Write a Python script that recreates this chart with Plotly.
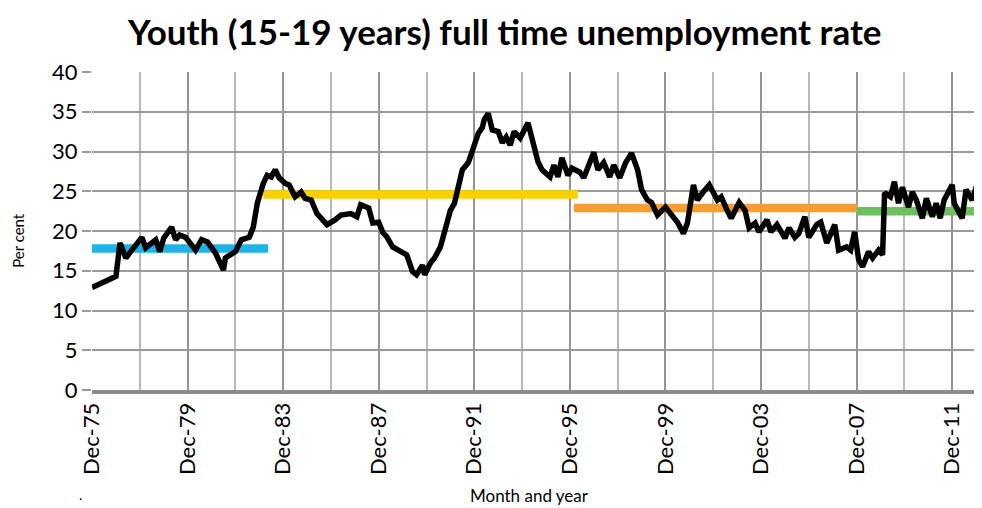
import plotly.graph_objects as go

# Monthly youth (15-19) full-time unemployment rate
months = [
    "1975-12", "1976-10", "1976-12", "1977-02", "1977-05", "1977-08", "1978-01", "1978-03",
    "1978-08", "1978-10", "1978-12", "1979-04", "1979-06", "1979-08", "1979-11", "1980-04",
    "1980-07", "1980-10", "1981-02", "1981-06", "1981-07", "1981-12", "1982-03", "1982-07",
    "1982-09", "1982-11", "1983-02", "1983-04", "1983-06", "1983-08", "1983-10", "1984-01",
    "1984-03", "1984-06", "1984-09", "1984-11", "1985-02", "1985-05", "1985-07", "1985-10",
    "1986-02", "1986-05", "1986-10", "1987-01", "1987-03", "1987-07", "1987-09", "1987-12",
    "1988-02", "1988-04", "1988-07", "1988-11", "1989-02", "1989-05", "1989-07", "1989-10",
    "1989-11", "1990-02", "1990-04", "1990-07", "1990-09", "1990-12", "1991-02", "1991-04",
    "1991-06", "1991-09", "1991-11", "1992-02", "1992-04", "1992-05", "1992-07", "1992-09",
    "1992-12", "1993-02", "1993-04", "1993-06", "1993-08", "1993-11", "1994-03", "1994-05",
    "1994-08", "1994-10", "1995-02", "1995-04", "1995-06", "1995-08", "1995-11", "1996-01",
    "1996-05", "1996-07", "1996-10", "1996-12", "1997-02", "1997-05", "1997-08", "1997-10",
    "1998-01", "1998-04", "1998-07", "1998-10", "1998-12", "1999-03", "1999-05", "1999-08",
    "1999-12", "2000-03", "2000-06", "2000-09", "2000-11", "2001-02", "2001-04", "2001-07",
    "2001-10", "2002-02", "2002-04", "2002-07", "2002-09", "2003-01", "2003-04", "2003-06",
    "2003-09", "2003-11", "2004-03", "2004-05", "2004-08", "2004-12", "2005-02", "2005-05",
    "2005-07", "2005-10", "2005-12", "2006-04", "2006-06", "2006-09", "2007-01", "2007-03",
    "2007-07", "2007-09", "2007-11", "2008-01", "2008-03", "2008-06", "2008-08", "2008-11",
    "2009-01", "2009-02", "2009-05", "2009-07", "2009-09", "2009-11", "2010-02", "2010-04",
    "2010-06", "2010-09", "2010-11", "2011-02", "2011-04", "2011-06", "2011-08", "2011-12",
    "2012-01", "2012-05", "2012-07", "2012-10", "2012-12", "2013-02",
]
rate = [
    12.9, 14.2, 14.3, 18.5, 16.6, 17.6, 19.2, 17.9,
    18.9, 17.4, 19.1, 20.5, 18.9, 19.5, 19.2, 17.6,
    18.9, 18.6, 17.2, 15.1, 16.6, 17.4, 18.9, 19.2,
    20.5, 23.5, 26.0, 27.0, 26.8, 27.7, 26.7, 26.0,
    25.8, 24.3, 24.9, 24.1, 23.9, 22.2, 21.6, 20.8,
    21.4, 22.0, 22.2, 21.8, 23.3, 22.9, 21.0, 21.1,
    19.8, 19.3, 18.0, 17.4, 17.0, 14.9, 14.5, 15.7,
    14.5, 16.0, 16.6, 18.0, 19.7, 22.6, 23.5, 25.5,
    27.7, 28.6, 30.2, 32.3, 33.0, 34.0, 34.8, 32.7,
    32.5, 31.1, 31.8, 30.8, 32.5, 31.7, 33.6, 31.8,
    28.7, 27.7, 26.8, 28.3, 26.8, 29.2, 27.0, 27.9,
    27.4, 26.7, 28.6, 29.9, 27.7, 28.6, 26.8, 28.3,
    26.7, 28.6, 29.8, 27.7, 25.2, 23.9, 23.6, 22.0,
    23.0, 22.0, 21.1, 19.7, 21.0, 25.8, 23.9, 24.9,
    25.8, 23.9, 24.3, 22.6, 21.6, 23.6, 22.6, 20.4,
    21.0, 19.9, 21.4, 19.9, 20.8, 19.1, 20.4, 19.2,
    19.7, 21.8, 19.2, 20.8, 21.1, 18.5, 20.8, 17.6,
    18.0, 17.6, 19.9, 16.4, 15.5, 17.4, 16.6, 17.6,
    17.0, 24.8, 24.3, 26.2, 23.5, 25.5, 23.0, 24.9,
    23.9, 21.6, 24.1, 21.8, 23.5, 21.6, 23.9, 25.8,
    23.5, 21.6, 25.2, 23.9, 25.5, 26.4,
]

# Period averages
period_start = ["1975-12-01", "1983-02-01", "1996-02-01", "2007-12-01"]
period_end = ["1983-04-15", "1996-04-01", "2007-12-15", "2013-03-01"]
period_avg = [17.8, 24.6, 22.9, 22.5]
period_color = ["#1BB4E6", "#FFD000", "#F79D32", "#6DBF5F"]

tick_dates = ["1975-12-01", "1979-12-01", "1983-12-01", "1987-12-01", "1991-12-01",
              "1995-12-01", "1999-12-01", "2003-12-01", "2007-12-01", "2011-12-01"]
tick_labels = ["Dec-75", "Dec-79", "Dec-83", "Dec-87", "Dec-91",
               "Dec-95", "Dec-99", "Dec-03", "Dec-07", "Dec-11"]

FONT = "Lato"

fig = go.Figure()
for s, e, v, c in zip(period_start, period_end, period_avg, period_color):
    fig.add_trace(go.Scatter(x=[s, e], y=[v, v], mode="lines",
                             line=dict(color=c, width=8.5), showlegend=False,
                             hoverinfo="skip"))

fig.add_trace(go.Scatter(x=[m + "-01" for m in months], y=rate, mode="lines",
                         line=dict(color="black", width=5.5), showlegend=False))

fig.update_layout(
    width=974, height=500,
    margin=dict(l=84, r=0, t=64, b=118),
    paper_bgcolor="white", plot_bgcolor="white",
    font=dict(family=FONT, color="black"),
    title=dict(text="<b>Youth (15-19 years) full time unemployment rate</b>",
               x=0.51, xanchor="center", y=0.95, yanchor="middle",
               font=dict(size=35, family=FONT, color="black")),
)

fig.update_xaxes(
    type="date", range=["1975-12-01", "2013-03-01"],
    tickvals=tick_dates, ticktext=tick_labels, tickangle=-90,
    tickfont=dict(size=22, family=FONT),
    showgrid=True, gridcolor="#949494", gridwidth=1.5,
    minor=dict(dtick="M24", tick0="1977-12-01", showgrid=True,
               gridcolor="#b8b8b8", gridwidth=1.5),
    showline=True, linecolor="#8c8c8c", linewidth=4,
    ticks="", zeroline=False,
)
fig.update_yaxes(
    range=[0, 40], dtick=5,
    tickfont=dict(size=22, family=FONT),
    showgrid=True, gridcolor="#9a9a9a", gridwidth=1.5,
    ticks="outside", ticklen=9, tickcolor="#9a9a9a", tickwidth=1.5,
    zeroline=False, showline=False,
)

fig.add_annotation(text="Per cent", xref="paper", yref="paper", x=0, y=0.469,
                   xanchor="center", yanchor="middle", xshift=-74, textangle=-90,
                   showarrow=False, font=dict(size=15, family=FONT))
fig.add_annotation(text="Month and year", xref="paper", yref="paper", x=0.492, y=0,
                   xanchor="center", yanchor="middle", yshift=-105, showarrow=False,
                   font=dict(size=17, family=FONT))
fig.add_annotation(text=".", xref="paper", yref="paper", x=0, y=0,
                   xanchor="center", yanchor="middle", xshift=-12, yshift=-104,
                   showarrow=False, font=dict(size=14, family=FONT))

fig.write_html("out.html")
